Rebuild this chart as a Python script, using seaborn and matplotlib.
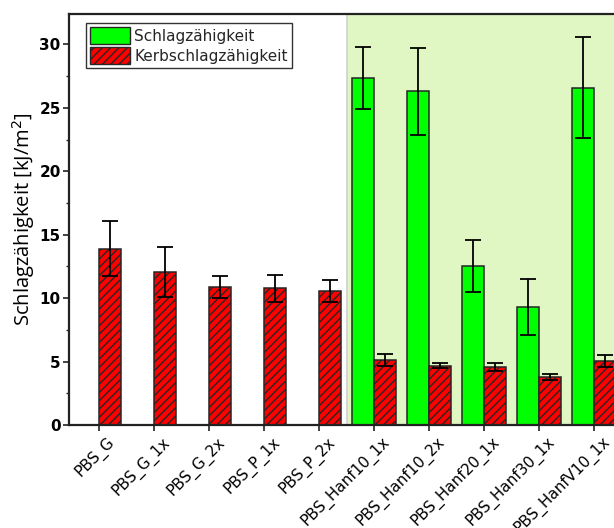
import numpy as np
import pandas as pd
import matplotlib
matplotlib.use("Agg")
import matplotlib.pyplot as plt
import matplotlib.transforms as mtransforms
from matplotlib.patches import Patch
import seaborn as sns

# Sample names (x axis)
samples = ["PBS_G", "PBS_G_1x", "PBS_G_2x", "PBS_P_1x", "PBS_P_2x",
           "PBS_Hanf10_1x", "PBS_Hanf10_2x", "PBS_Hanf20_1x",
           "PBS_Hanf30_1x", "PBS_HanfV10_1x"]

# Impact strength (unnotched) - only measured for the hemp composites
schlag = [np.nan, np.nan, np.nan, np.nan, np.nan, 27.35, 26.3, 12.5, 9.3, 26.6]
schlag_err = [np.nan, np.nan, np.nan, np.nan, np.nan, 2.45, 3.45, 2.05, 2.2, 3.95]

# Notched impact strength
kerb = [13.9, 12.05, 10.87, 10.77, 10.55, 5.13, 4.68, 4.55, 3.77, 5.03]
kerb_err = [2.15, 1.95, 0.88, 1.08, 0.85, 0.45, 0.22, 0.33, 0.25, 0.47]

series = ["Schlagzähigkeit", "Kerbschlagzähigkeit"]
colors = {"Schlagzähigkeit": "#00ff00", "Kerbschlagzähigkeit": "#ff0000"}

rows = []
for s, v, e in zip(samples, schlag, schlag_err):
    rows.append((s, series[0], v, e))
for s, v, e in zip(samples, kerb, kerb_err):
    rows.append((s, series[1], v, e))
df = pd.DataFrame(rows, columns=["Probe", "Serie", "Wert", "Fehler"]).dropna()

sns.set_style("ticks")
plt.rcParams["hatch.linewidth"] = 1.0
plt.rcParams["font.family"] = ["DejaVu Sans"]

fig = plt.figure(figsize=(6.14, 5.28), dpi=100)
ax = fig.add_axes([69 / 614, 1 - 425 / 528, 555 / 614, 411 / 528])

# Shaded background behind the hemp-fibre samples
ax.axvspan(4.5, 10, facecolor="#e0f7c4", edgecolor="#d0d0d0", lw=1.2, zorder=0)

sns.barplot(data=df, x="Probe", y="Wert", hue="Serie", order=samples,
            hue_order=series, palette=colors, saturation=1, errorbar=None,
            width=0.8, edgecolor="#262626", linewidth=1.1, legend=False,
            ax=ax, zorder=2)

err_lookup = {(r.Probe, r.Serie): r.Fehler for r in df.itertuples()}
for cont, name in zip(ax.containers, series):
    for bar in cont:
        h = bar.get_height()
        if np.isnan(h):
            continue
        xc = bar.get_x() + bar.get_width() / 2
        probe = samples[int(round(xc))]
        if name == series[1]:
            bar.set_hatch("////")
        ax.errorbar(xc, h, yerr=err_lookup[(probe, name)], fmt="none",
                    ecolor="black", elinewidth=1.3, capsize=5.5,
                    capthick=1.3, zorder=3)

ax.set_xlim(-0.545, 9.545)
ax.set_ylim(0, 32.4)
ax.set_yticks([0, 5, 10, 15, 20, 25, 30])
ax.set_yticks(np.arange(2.5, 32.4, 5), minor=True)
ax.set_xlabel("")
ax.set_ylabel("Schlagzähigkeit [kJ/m$^2$]", fontsize=14.5,
              family="Open Sans", color="black", labelpad=2)

ax.tick_params(axis="both", direction="out", length=4.5, width=1.2, color="#222222")
ax.tick_params(axis="y", which="minor", direction="out", length=2.5, width=1.0)
ax.tick_params(axis="y", pad=1.5)
ax.tick_params(axis="x", pad=2)

for lab in ax.get_yticklabels():
    lab.set_fontweight("bold")
    lab.set_fontsize(11)
    lab.set_color("black")
ax.set_xticks(range(len(samples)))
ax.set_xticklabels(samples, rotation=45, ha="right", va="top",
                   rotation_mode="anchor", fontsize=11, color="black")
# nudge the rotated sample names to the right so they hang under their ticks
shift = mtransforms.ScaledTranslation(8 / 100, 0, fig.dpi_scale_trans)
for lab in ax.get_xticklabels():
    lab.set_transform(lab.get_transform() + shift)

for side in ["left", "bottom", "top", "right"]:
    ax.spines[side].set_visible(True)
    ax.spines[side].set_linewidth(1.6)
    ax.spines[side].set_color("#222222")

handles = [Patch(facecolor=colors[series[0]], edgecolor="#262626", lw=1.0),
           Patch(facecolor=colors[series[1]], edgecolor="#262626", lw=1.0, hatch="////")]
leg = ax.legend(handles, series, loc="upper left", bbox_to_anchor=(0.031, 0.978),
                borderaxespad=0, fontsize=11, frameon=True, fancybox=False,
                framealpha=1, edgecolor="#333333", handlelength=2.6,
                handleheight=1.35, handletextpad=0.3, labelspacing=0.2,
                borderpad=0.25)
leg.get_frame().set_linewidth(1.0)

fig.savefig("out.png", dpi=100)
